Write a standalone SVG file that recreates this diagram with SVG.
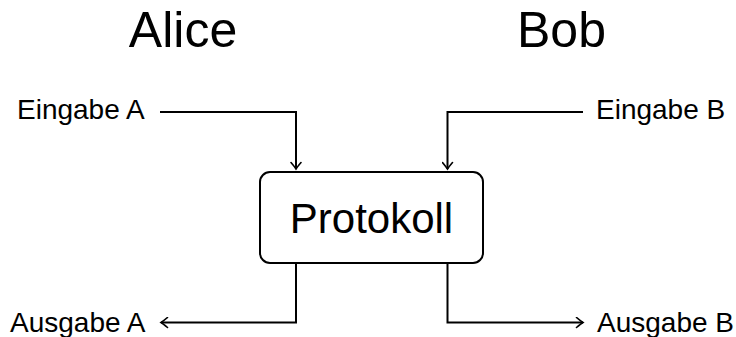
<svg xmlns="http://www.w3.org/2000/svg" width="736" height="337" viewBox="0 0 736 337">
  <style>
    .title { font-family: "Liberation Sans", Arial, sans-serif; font-size: 50px; fill: #000; }
    .label { font-family: "Liberation Sans", Arial, sans-serif; font-size: 28px; fill: #000; }
    .box-text { font-family: "Liberation Sans", Arial, sans-serif; font-size: 42px; fill: #000; }
    .box { fill: #fff; stroke: #000; stroke-width: 2; }
    .wire { fill: none; stroke: #000; stroke-width: 2; marker-end: url(#tip); }
  </style>
  <defs>
    <marker id="tip" viewBox="-8 -6 10 12" refX="0" refY="0" markerWidth="10" markerHeight="12" markerUnits="userSpaceOnUse" orient="auto">
      <path d="M -6.5,-5 Q -2,-1.2 0,0 Q -2,1.2 -6.5,5" fill="none" stroke="#000" stroke-width="1.6" stroke-linecap="round"/>
    </marker>
  </defs>
  <rect width="736" height="337" fill="#fff"/>

  <g id="title-alice"><text class="title" x="183" y="47" text-anchor="middle">Alice</text></g>
  <g id="title-bob"><text class="title" x="561.5" y="47" text-anchor="middle">Bob</text></g>

  <g id="input-a"><text class="label" x="17" y="119">Eingabe A</text></g>
  <g id="input-b"><text class="label" x="596" y="119">Eingabe B</text></g>
  <g id="output-a"><text class="label" x="10" y="332">Ausgabe A</text></g>
  <g id="output-b"><text class="label" x="597" y="332">Ausgabe B</text></g>

  <g id="connectors">
    <path class="wire" d="M 160,112 H 296 V 169"/>
    <path class="wire" d="M 583,112 H 447.5 V 169"/>
    <path class="wire" d="M 296,263 V 322.5 H 161"/>
    <path class="wire" d="M 447.5,263 V 322.5 H 583"/>
  </g>

  <g id="protocol">
    <rect class="box" x="260" y="172" width="223" height="91" rx="10" ry="10"/>
    <text class="box-text" x="371.5" y="233" text-anchor="middle">Protokoll</text>
  </g>
</svg>
